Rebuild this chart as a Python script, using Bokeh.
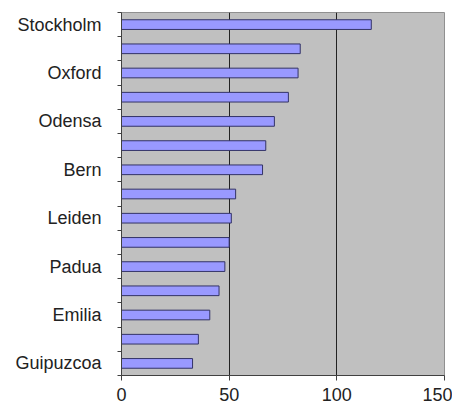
from bokeh.plotting import figure
from bokeh.models import Range1d, FixedTicker, ColumnDataSource
from bokeh.embed import file_html
from bokeh.resources import INLINE

labels = ["Stockholm", "", "Oxford", "", "Odensa", "", "Bern", "", "Leiden", "",
          "Padua", "", "Emilia", "", "Guipuzcoa"]
values = [116, 83, 82, 77.5, 71, 67, 65.5, 53, 51, 50, 48, 45.3, 41, 35.7, 33]
x_ticks = [0, 50, 100, 150]

pos = list(range(len(values)))
src = ColumnDataSource(dict(y=pos, v=values))

p = figure(width=452, height=403, output_backend="svg", toolbar_location=None,
           x_range=Range1d(0, 150), y_range=Range1d(len(values) - 0.5, -0.5),
           min_border_left=121, min_border_right=8, min_border_top=12, min_border_bottom=24)
p.background_fill_color = "#C0C0C0"
p.border_fill_color = "white"
p.outline_line_color = "#909090"

p.hbar(y="y", left=0, right="v", height=0.4, source=src,
       fill_color="#9999FF", line_color="#333366", line_width=1)

p.xaxis.ticker = FixedTicker(ticks=x_ticks)
p.xaxis.minor_tick_line_color = None
p.xaxis.major_tick_in = 0
p.xaxis.major_tick_out = 5
p.xaxis.axis_line_color = "#404040"
p.xaxis.major_tick_line_color = "#404040"
p.xaxis.major_label_text_font = "Liberation Sans"
p.xaxis.major_label_text_font_size = "18px"
p.xaxis.major_label_text_color = "#222222"
p.xaxis.major_label_standoff = 7

p.yaxis.ticker = FixedTicker(ticks=pos, minor_ticks=[i + 0.5 for i in range(-1, len(values))])
p.yaxis.major_label_overrides = {i: l for i, l in zip(pos, labels)}
p.yaxis.major_tick_line_color = None
p.yaxis.major_tick_in = 0
p.yaxis.major_tick_out = 0
p.yaxis.minor_tick_in = 0
p.yaxis.minor_tick_out = 4
p.yaxis.minor_tick_line_color = "#404040"
p.yaxis.axis_line_color = "#404040"
p.yaxis.major_label_text_font = "Liberation Sans"
p.yaxis.major_label_text_font_size = "18px"
p.yaxis.major_label_text_color = "#222222"
p.yaxis.major_label_standoff = 16

p.ygrid.grid_line_color = None
p.xgrid.ticker = FixedTicker(ticks=[50, 100])
p.xgrid.grid_line_color = "#222222"
p.xgrid.grid_line_width = 1

open("out.html", "w").write(file_html(p, INLINE))
